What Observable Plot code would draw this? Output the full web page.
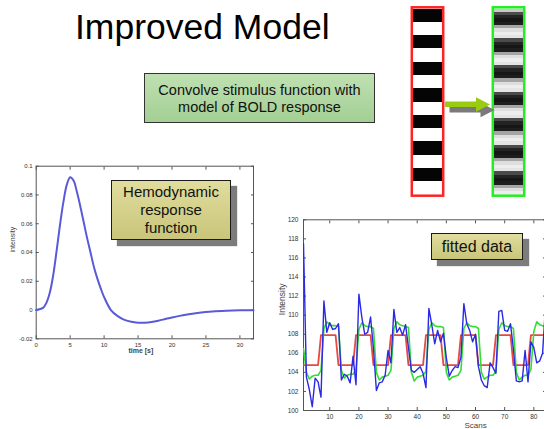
<!DOCTYPE html>
<html>
<head>
<meta charset="utf-8">
<script src="https://cdn.jsdelivr.net/npm/d3@7"></script>
<script src="https://cdn.jsdelivr.net/npm/@observablehq/plot@0.6"></script>
<style>
  html, body { margin: 0; padding: 0; background: #fff; overflow: hidden; }
  body { width: 544px; height: 429px; position: relative; font-family: "Liberation Sans", Arial, sans-serif; }
  .abs { position: absolute; }
  .abs svg { max-width: none !important; display: block; }
  #title { left: 75px; top: 10px; font-size: 35.5px; line-height: 35px; color: #000; white-space: nowrap; }
  #note { left: 144px; top: 73px; width: 229px; border: 1px solid #333;
          background: linear-gradient(#bfe0b2, #a3cf94); font-size: 14.5px; line-height: 16.5px;
          text-align: center; padding-top: 8px; box-sizing: content-box; height: 40px; color: #111; }
  .tag { border: 1.5px solid #1a1a1a; background: linear-gradient(#e0dd9e, #c9c57a);
         box-shadow: 6px 6px 1px #7c7c7c; text-align: center; color: #111;
         display: flex; align-items: center; justify-content: center; box-sizing: border-box; }
  #hrfTag { left: 111px; top: 180px; width: 120px; height: 60px; font-size: 15px; line-height: 18px; }
  #fitTag { left: 431px; top: 233px; width: 92px; height: 27px; font-size: 16px; line-height: 18px; }
  #arrow { left: 0; top: 0; }
</style>
</head>
<body>
<div id="title" class="abs">Improved Model</div>
<div id="note" class="abs">Convolve stimulus function with<br>model of BOLD response</div>
<div id="stripes" class="abs" style="left:400px;top:0px;width:140px"></div>
<svg id="arrow" class="abs" width="544" height="130">
  <g transform="translate(4.5,5.5)">
    <polygon points="445,101.5 476,101.5 476,97.3 490,104.5 476,111.7 476,107 445,107" fill="#7a7a7a"/>
  </g>
  <polygon points="445,101.5 476,101.5 476,97.3 490,104.5 476,111.7 476,107 445,107" fill="#99cc0f"/>
</svg>
<div id="hrf" class="abs" style="left:0px;top:150px;width:263px"></div>
<div id="hrfTag" class="abs tag">Hemodynamic<br>response<br>function</div>
<div id="fit" class="abs" style="left:262px;top:205px;width:288px"></div>
<div id="fitTag" class="abs tag">fitted data</div>

<script>
// ---- Stimulus on/off pattern (1 = on, black) and its convolved BOLD shading (grey level per quarter stripe)
const stimulusStripes = [1, 0, 1, 0, 1, 0, 1, 0, 1, 0, 1, 0, 1, 0];
const boldShade = [
  200,
  75, 35, 22, 30, 165, 222, 238, 228,
  75, 35, 22, 30, 165, 222, 238, 228,
  75, 35, 22, 30, 165, 222, 238, 228,
  75, 35, 22, 30, 165, 222, 238, 228,
  75, 35, 22, 30, 165, 222, 238, 228,
  75, 35, 22, 30, 165, 222, 238, 228,
  75, 35, 22, 30, 165, 222, 238
];
const stripeColumns = ["stimulus", "BOLD"];

// ---- Hemodynamic response function: time (s) and intensity
const hrfTime = [0, 1, 1.5, 2, 2.5, 3, 3.5, 4, 4.5, 5, 5.5, 6, 6.5, 7, 7.5, 8, 8.5, 9, 9.5, 10, 11, 12, 13, 14, 15, 16, 17, 18, 19, 20, 22, 24, 26, 28, 30, 32];
const hrfValue = [0, 0.0015, 0.005, 0.012, 0.024, 0.041, 0.059, 0.075, 0.087, 0.0923, 0.090, 0.082, 0.072, 0.061, 0.050, 0.040, 0.030, 0.022, 0.015, 0.009, 0.0000, -0.0042, -0.0068, -0.0082, -0.0088, -0.0088, -0.0083, -0.0074, -0.0063, -0.0052, -0.0033, -0.0019, -0.0010, -0.0005, -0.0002, -0.0001];
const hrfXTicks = [0, 5, 10, 15, 20, 25, 30];
const hrfYTicks = [-0.02, 0, 0.02, 0.04, 0.06, 0.08, 0.1];

// ---- Fitted data: measured signal, model fit and stimulus boxcar per scan (scans 1..84)
const measured = [
  117.5, 103.5, 102.2, 100.4, 103.4, 103.0, 101.4, 111.5, 108.2, 109.2, 108.5, 108.6,
  109.1, 103.2, 103.8, 103.6, 102.9, 105.7, 102.7, 112.2, 109.8, 108.0, 108.2, 109.8,
  106.5, 102.1, 102.9, 103.0, 103.7, 106.3, 105.0, 110.6, 108.2, 108.7, 107.9, 109.0,
  106.6, 104.2, 104.0, 104.3, 104.6, 103.9, 102.4, 110.7, 109.0, 107.0, 108.4, 107.2,
  108.1, 105.5, 103.6, 104.2, 104.6, 104.5, 105.6, 111.2, 109.1, 108.4, 107.2, 108.0,
  104.6, 103.2, 102.6, 102.4, 105.0, 104.5, 103.9, 110.4, 110.5, 108.4, 108.3, 109.1,
  106.4, 103.1, 103.0, 103.1, 106.3, 103.0, 107.2, 106.6, 105.0, 105.2, 106.0, 111.0
];
const fitted = [
  106.5, 104.0, 103.3, 103.6, 103.7, 103.7, 104.2, 108.6, 109.3, 109.0, 108.9, 108.9,
  108.8, 104.2, 103.4, 103.7, 103.8, 103.8, 104.3, 108.5, 109.2, 108.9, 108.8, 108.8,
  108.6, 104.0, 103.2, 103.5, 103.6, 103.7, 104.2, 108.6, 109.3, 109.0, 108.9, 108.8,
  108.7, 104.0, 103.1, 103.5, 103.6, 103.7, 104.1, 108.5, 109.2, 108.9, 108.8, 108.8,
  108.7, 104.0, 103.2, 103.5, 103.6, 103.7, 104.2, 108.6, 109.2, 108.9, 108.8, 108.8,
  108.6, 104.0, 103.3, 103.5, 103.7, 103.7, 104.1, 108.5, 109.2, 108.9, 108.8, 108.8,
  108.6, 104.0, 103.2, 103.5, 103.7, 103.7, 104.3, 108.3, 109.3, 109.0, 108.9, 108.8
];
const stimulus = [
  104.75, 104.75, 104.75, 104.75, 104.75, 104.75, 107.9, 107.9, 107.9, 107.9, 107.9, 107.9,
  104.75, 104.75, 104.75, 104.75, 104.75, 104.75, 107.9, 107.9, 107.9, 107.9, 107.9, 107.9,
  104.75, 104.75, 104.75, 104.75, 104.75, 104.75, 107.9, 107.9, 107.9, 107.9, 107.9, 107.9,
  104.75, 104.75, 104.75, 104.75, 104.75, 104.75, 107.9, 107.9, 107.9, 107.9, 107.9, 107.9,
  104.75, 104.75, 104.75, 104.75, 104.75, 104.75, 107.9, 107.9, 107.9, 107.9, 107.9, 107.9,
  104.75, 104.75, 104.75, 104.75, 104.75, 104.75, 107.9, 107.9, 107.9, 107.9, 107.9, 107.9,
  104.75, 104.75, 104.75, 104.75, 104.75, 104.75, 107.9, 107.9, 107.9, 107.9, 107.9, 107.9
];
const scanXTicks = [10, 20, 30, 40, 50, 60, 70, 80];
const scanYTicks = [100, 102, 104, 106, 108, 110, 112, 114, 116, 118, 120];

const baseStyle = { fontFamily: "Liberation Sans, Arial, sans-serif", fontSize: "6px", color: "#333", background: "transparent", overflow: "visible" };
const gray = (g) => `rgb(${g},${g},${g})`;

// ---- Stripe columns: stimulus (left) and convolved response (right)
const stripeRows = [
  ...stimulusStripes.map((v, i) => ({ col: "stimulus", y1: i, y2: i + 1, fill: v ? "#050505" : "#ffffff" })),
  ...boldShade.map((g, i) => ({ col: "BOLD", y1: i / 4, y2: (i + 1) / 4, fill: gray(g) }))
];
document.getElementById("stripes").append(Plot.plot({
  width: 140, height: 205,
  marginLeft: 12.5, marginRight: 16.5, marginTop: 8.5, marginBottom: 10.5,
  style: baseStyle,
  x: { domain: stripeColumns, paddingInner: 0.6463, paddingOuter: 0, axis: null },
  y: { domain: [14, 0], axis: null },
  color: { type: "identity" },
  marks: [
    Plot.barY(stripeRows, { x: "col", y1: "y1", y2: "y2", fill: "fill", shapeRendering: "crispEdges" }),
    Plot.barY(stripeColumns, { x: d => d, y1: 0, y2: 14, fill: "none", inset: -1.2, strokeWidth: 2.5,
      stroke: d => d === "stimulus" ? "#ff2424" : "#22ee22" })
  ]
}));

// ---- Hemodynamic response function
const hrfRows = hrfTime.map((t, i) => ({ t, v: hrfValue[i] }));
const fmt = d => String(d);
document.getElementById("hrf").append(Plot.plot({
  width: 263, height: 215,
  marginLeft: 35.7, marginRight: 10, marginTop: 15.7, marginBottom: 26.7,
  style: baseStyle,
  x: { domain: [0, 32] },
  y: { domain: [-0.02, 0.1] },
  marks: [
    Plot.axisX(hrfXTicks, { anchor: "bottom", tickSize: -3, tickPadding: 6.5, tickFormat: fmt, label: null, stroke: "#555" }),
    Plot.axisX(hrfXTicks, { anchor: "top", tickSize: -3, tickFormat: () => "", label: null, stroke: "#555" }),
    Plot.axisY(hrfYTicks, { anchor: "left", tickSize: -3, tickPadding: 6.5, tickFormat: fmt, label: null, stroke: "#555" }),
    Plot.axisY(hrfYTicks, { anchor: "right", tickSize: -3, tickFormat: () => "", label: null, stroke: "#555" }),
    Plot.frame({ stroke: "#555" }),
    Plot.line(hrfRows, { x: "t", y: "v", curve: "catmull-rom", stroke: "#5a5ad8", strokeWidth: 2 }),
    Plot.text(["intensity"], { text: d => d, frameAnchor: "left", rotate: -90, dx: -23.5, fontSize: 7, fill: "#444" }),
    Plot.text(["time [s]"], { text: d => d, frameAnchor: "bottom", dx: -4, dy: 13.7, fontSize: 7, fontWeight: "bold", fill: "#444" })
  ]
}));

// ---- Fitted data over 84 scans
const scanRows = measured.map((m, i) => ({ scan: i + 1, measured: m, fitted: fitted[i], stimulus: stimulus[i] }));
document.getElementById("fit").append(Plot.plot({
  width: 288, height: 229,
  marginLeft: 41, marginRight: 5, marginTop: 14.3, marginBottom: 24,
  style: baseStyle,
  x: { domain: [1, 84] },
  y: { domain: [100, 120] },
  marks: [
    Plot.axisX(scanXTicks, { anchor: "bottom", tickSize: -3, tickPadding: 6.5, tickFormat: fmt, label: null, stroke: "#555", fontSize: 6.5 }),
    Plot.axisX(scanXTicks, { anchor: "top", tickSize: -3, tickFormat: () => "", label: null, stroke: "#555" }),
    Plot.axisY(scanYTicks, { anchor: "left", tickSize: -3, tickPadding: 8, tickFormat: fmt, label: null, stroke: "#555", fontSize: 6.5 }),
    Plot.axisY(scanYTicks, { anchor: "right", tickSize: -3, tickFormat: () => "", label: null, stroke: "#555" }),
    Plot.frame({ stroke: "#555" }),
    Plot.line(scanRows, { x: "scan", y: "stimulus", stroke: "#e44a44", strokeWidth: 1.8, clip: true }),
    Plot.line(scanRows, { x: "scan", y: "fitted", stroke: "#33dd33", strokeWidth: 1.6, clip: true }),
    Plot.line(scanRows, { x: "scan", y: "measured", stroke: "#2a2ae4", strokeWidth: 1.4, clip: true }),
    Plot.text(["Intensity"], { text: d => d, frameAnchor: "left", rotate: -90, dx: -21, fontSize: 8.5, fill: "#444" }),
    Plot.text(["Scans"], { text: d => d, frameAnchor: "bottom", dx: 51, dy: 17.5, fontSize: 8, fill: "#444" })
  ]
}));
</script>
</body>
</html>
